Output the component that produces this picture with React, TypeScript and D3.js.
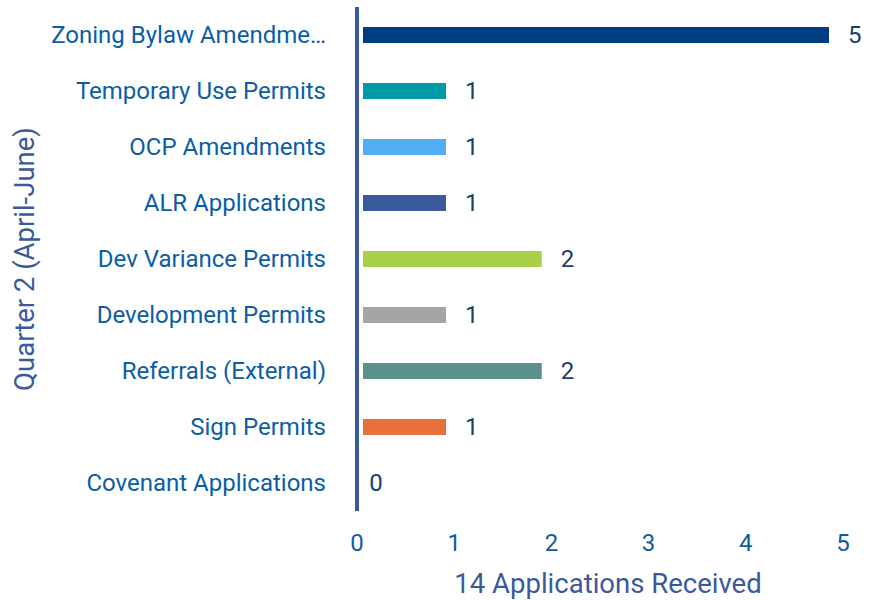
import React from "react";
import * as d3 from "d3";

const categories = [
  "Zoning Bylaw Amendme…",
  "Temporary Use Permits",
  "OCP Amendments",
  "ALR Applications",
  "Dev Variance Permits",
  "Development Permits",
  "Referrals (External)",
  "Sign Permits",
  "Covenant Applications",
];
const values = [5, 1, 1, 1, 2, 1, 2, 1, 0];
const colors = [
  "#003f7f",
  "#009aa6",
  "#52aef2",
  "#3b5a9c",
  "#a9cf48",
  "#a5a5a5",
  "#5a918b",
  "#e86f3c",
  "#7f7f7f",
];
const xTicks = [0, 1, 2, 3, 4, 5];
const xTitle = "14 Applications Received";
const yTitle = "Quarter 2 (April-June)";

export default function App() {
  const W = 869;
  const H = 600;
  const x = d3.scaleLinear().domain([0, 5]).range([357, 843]);
  const xb = d3.scaleLinear().domain([0, 5]).range([350.25, 829]);
  const y = d3.scaleBand().domain(categories).range([7, 511]);
  const font = "Roboto, sans-serif";
  const labelColor = "#0b5ea5";
  const barH = 16;
  const barStart = 363;

  return (
    <svg
      width={W}
      height={H}
      style={{ position: "absolute", left: 0, top: 0, background: "#fff" }}
      fontFamily={font}
    >
      {categories.map((c, i) => {
        const cy = (y(c) as number) + y.bandwidth() / 2;
        const v = values[i];
        const w = Math.max(0, xb(v) - barStart);
        return (
          <g key={c}>
            {w > 0 && (
              <rect
                x={barStart}
                y={cy - barH / 2}
                width={w}
                height={barH}
                fill={colors[i]}
              />
            )}
            <text
              x={xb(v) + 19}
              y={cy}
              dy="0.35em"
              fontSize={24}
              fill="#14426f"
            >
              {v}
            </text>
            <text
              x={326}
              y={cy}
              dy="0.35em"
              textAnchor="end"
              fontSize={24}
              fill={labelColor}
            >
              {c}
            </text>
          </g>
        );
      })}
      <line x1={x(0)} x2={x(0)} y1={7} y2={511} stroke="#3b5a9c" strokeWidth={4} />
      {xTicks.map((t) => (
        <text
          key={t}
          x={x(t)}
          y={543}
          dy="0.35em"
          textAnchor="middle"
          fontSize={24}
          fill={labelColor}
        >
          {t}
        </text>
      ))}
      <text
        x={608}
        y={583}
        dy="0.35em"
        textAnchor="middle"
        fontSize={27.5}
        fill="#3b5a9c"
      >
        {xTitle}
      </text>
      <text
        transform={`translate(24, ${(7 + 511) / 2}) rotate(-90)`}
        dy="0.35em"
        textAnchor="middle"
        fontSize={27.5}
        fill="#3b5a9c"
      >
        {yTitle}
      </text>
    </svg>
  );
}
